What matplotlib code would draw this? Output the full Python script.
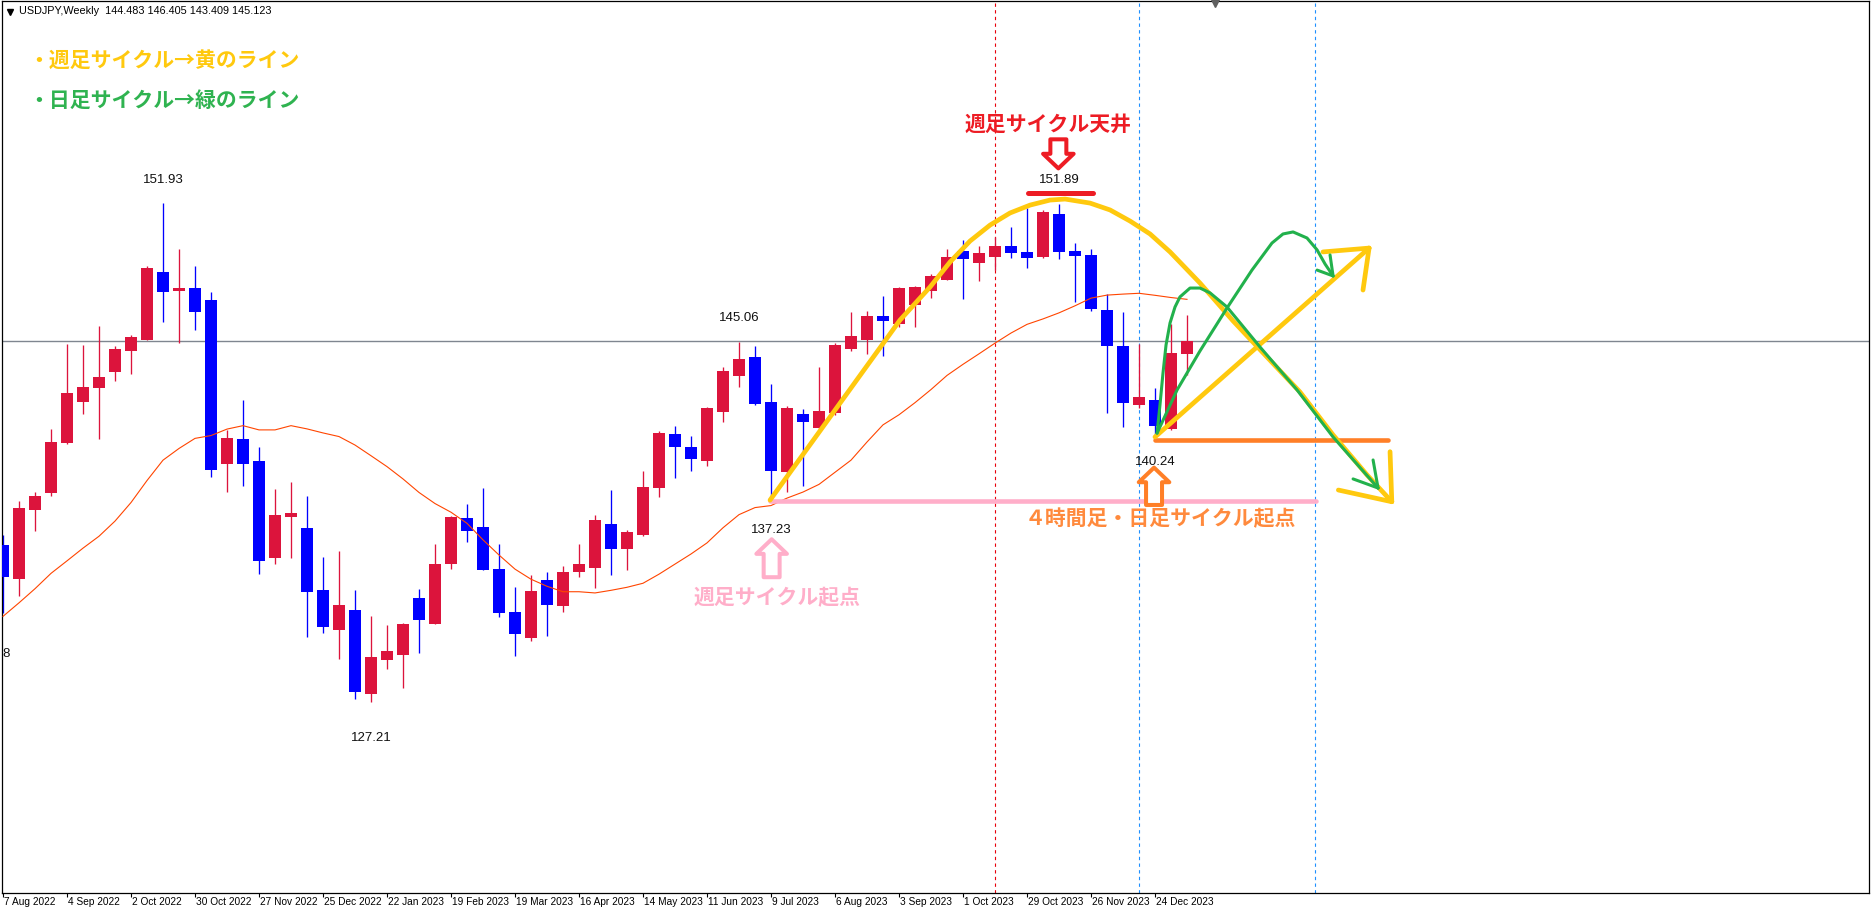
import matplotlib
matplotlib.use('Agg')
import matplotlib.pyplot as plt
import numpy as np

# ---- weekly USDJPY candles (7 Aug 2022 .. 7 Jan 2024) ----
opens = [135.01, 133.29, 136.75, 137.56, 140.03, 142.06, 142.80, 143.55, 144.59, 145.17,
         148.52, 147.60, 147.73, 147.15, 139.03, 140.25, 139.16, 134.37, 136.37, 135.84,
         132.77, 130.80, 131.78, 127.63, 129.31, 129.56, 132.37, 131.10, 134.07, 136.33,
         135.89, 133.81, 131.68, 130.40, 133.26, 131.99, 133.68, 133.87, 136.04, 134.80,
         135.49, 137.84, 140.50, 139.87, 139.16, 141.61, 143.39, 144.31, 142.08, 138.60,
         141.47, 140.81, 141.56, 144.73, 145.16, 146.35, 145.95, 146.91, 147.60, 148.15,
         149.57, 148.99, 149.29, 149.81, 149.52, 149.27, 151.40, 149.57, 149.37, 146.64,
         144.88, 141.94, 142.18, 140.74, 144.483]
highs = [135.51, 137.19, 137.64, 140.75, 144.94, 144.91, 145.86, 144.86, 145.39, 148.81,
         151.93, 149.66, 148.82, 147.53, 140.70, 142.19, 139.87, 137.77, 138.12, 137.42,
         134.40, 134.70, 132.77, 131.48, 131.03, 131.13, 132.82, 135.05, 136.43, 137.05,
         137.82, 135.05, 132.93, 133.51, 133.66, 133.96, 135.05, 136.48, 137.72, 135.72,
         138.68, 140.66, 140.91, 140.42, 141.85, 143.80, 145.06, 144.86, 142.96, 141.88,
         141.74, 143.82, 144.99, 146.54, 146.59, 147.35, 147.80, 147.85, 148.43, 149.67,
         150.11, 149.81, 150.28, 150.77, 151.72, 151.60, 151.89, 149.98, 149.65, 147.42,
         146.53, 144.96, 142.76, 145.95, 146.405]
lows = [131.63, 132.45, 135.71, 137.44, 139.98, 141.51, 140.27, 143.10, 143.45, 145.15,
        146.03, 145.02, 145.63, 138.39, 137.61, 137.94, 133.54, 134.04, 134.37, 130.45,
        130.65, 129.36, 127.35, 127.21, 128.87, 127.93, 129.66, 131.10, 133.82, 135.15,
        133.77, 131.45, 129.51, 130.26, 130.50, 131.69, 133.43, 132.88, 133.50, 133.75,
        135.45, 137.39, 138.32, 138.68, 138.93, 141.11, 142.84, 141.95, 137.23, 137.61,
        137.94, 140.75, 141.44, 144.61, 144.46, 144.36, 145.82, 145.82, 147.25, 148.15,
        147.21, 148.10, 148.63, 149.24, 148.74, 149.24, 149.15, 147.06, 146.61, 141.52,
        140.86, 141.77, 140.24, 140.70, 143.409]
closes = [133.39, 136.84, 137.44, 140.10, 142.53, 142.83, 143.33, 144.72, 145.31, 148.72,
          147.55, 147.73, 146.56, 138.69, 140.30, 139.03, 134.22, 136.48, 136.58, 132.68,
          130.95, 132.02, 127.73, 129.45, 129.74, 131.08, 131.30, 134.06, 136.38, 135.71,
          133.77, 131.64, 130.60, 132.72, 132.04, 133.66, 134.06, 136.24, 134.80, 135.66,
          137.87, 140.56, 139.87, 139.28, 141.80, 143.64, 144.22, 142.00, 138.68, 141.80,
          141.08, 141.64, 144.91, 145.35, 146.35, 146.11, 147.72, 147.77, 148.33, 149.27,
          149.19, 149.47, 149.81, 149.48, 149.24, 151.50, 149.53, 149.34, 146.71, 144.88,
          142.05, 142.32, 140.91, 144.51, 145.123]
# moving average
ma_values = [131.46, 132.13, 132.83, 133.59, 134.21, 134.84, 135.43, 136.18, 137.10, 138.19,
             139.20, 139.78, 140.28, 140.42, 140.74, 140.91, 140.70, 140.70, 140.91, 140.75,
             140.55, 140.37, 139.95, 139.42, 138.88, 138.27, 137.60, 137.05, 136.62, 136.07,
             135.25, 134.50, 133.80, 133.30, 132.95, 132.68, 132.68, 132.62, 132.75, 132.90,
             133.10, 133.55, 134.05, 134.55, 135.10, 135.85, 136.50, 136.85, 136.95, 137.32,
             137.62, 138.00, 138.60, 139.20, 140.10, 140.95, 141.45, 142.05, 142.70, 143.40,
             143.95, 144.47, 145.00, 145.50, 145.93, 146.20, 146.50, 146.85, 147.23, 147.38,
             147.43, 147.47, 147.37, 147.26, 147.17]
tick_labels = ['7 Aug 2022', '4 Sep 2022', '2 Oct 2022', '30 Oct 2022', '27 Nov 2022',
               '25 Dec 2022', '22 Jan 2023', '19 Feb 2023', '19 Mar 2023', '16 Apr 2023',
               '14 May 2023', '11 Jun 2023', '9 Jul 2023', '6 Aug 2023', '3 Sep 2023',
               '1 Oct 2023', '29 Oct 2023', '26 Nov 2023', '24 Dec 2023']
header = 'USDJPY,Weekly  144.483 146.405 143.409 145.123'
last_price = 145.123

# high / low labels (week index, value)
hl_idx = [10, 46, 66, 48, 23, 72]
hl_val = [151.93, 145.06, 151.89, 137.23, 127.21, 140.24]
hl_off = [17, 17, 17, -22, -26, -16.5]

# hand drawn annotations (week index, price)
arc_x = [47.94, 52.0, 56.06, 57.94, 59.19, 60.44, 61.69, 62.94, 64.19, 65.44, 66.38, 67.94,
         69.19, 70.44, 71.69, 72.94, 74.81, 76.88, 79.0, 81.06, 83.13, 85.25, 86.8]
arc_y = [137.22, 141.68, 146.14, 147.78, 149.02, 150.06, 150.85, 151.45, 151.84, 152.09,
         152.14, 151.94, 151.60, 151.05, 150.41, 149.52, 147.98, 146.10, 144.31, 142.58,
         140.45, 138.47, 137.14]
arc_head_x = [[86.69, 86.8], [83.46, 86.8]]
arc_head_y = [[139.62, 137.14], [137.72, 137.14]]
up_line_x = [72.0, 85.38]
up_line_y = [140.35, 149.71]
up_head_x = [[82.5, 85.38], [85.0, 85.38]]
up_head_y = [[149.52, 149.71], [147.63, 149.71]]
g1_x = [72.13, 72.31, 72.5, 72.69, 72.94, 73.25, 73.56, 74.19, 74.81, 75.44, 76.5, 78.56,
        80.88, 83.13, 85.94]
g1_y = [140.54, 141.93, 143.52, 144.91, 146.00, 146.79, 147.29, 147.73, 147.73, 147.49,
        146.79, 144.81, 142.68, 140.35, 137.82]
g1_head_x = [[85.63, 85.94], [84.38, 85.94]]
g1_head_y = [[139.21, 137.82], [138.27, 137.82]]
g2_x = [72.13, 73.38, 74.81, 76.5, 78.06, 79.31, 80.0, 80.63, 81.5, 82.13, 82.63, 83.13]
g2_y = [140.54, 142.68, 144.61, 146.74, 148.62, 149.96, 150.41, 150.51, 150.21, 149.62,
        148.92, 148.33]
g2_head_x = [[82.13, 83.13], [82.94, 83.13]]
g2_head_y = [[148.62, 148.33], [149.37, 148.33]]
top_bar = (64.06, 68.13, 152.43)
cycle_low_bar = (47.94, 82.06, 137.18)
day_low_bar = (72.0, 86.56, 140.2)
vlines_red = [62.0]
vlines_blue = [71.0, 82.0]
shift_mark = 75.75

YEL, GRN, ORG, PNK, RED = '#ffc90e', '#22b14c', '#ff7f27', '#ffaec9', '#ed1c24'
JP = ['Noto Sans CJK JP', 'DejaVu Sans']
LAT = ['Liberation Sans', 'DejaVu Sans']

fig = plt.figure(figsize=(18.72, 9.11), dpi=100)
ax = fig.add_axes([2 / 1872, 18 / 911, 1867 / 1872, 892 / 911])
ax.set_xlim(-0.0625, 116.625)
ax.set_ylim(117.75, 161.955)

x = np.arange(len(opens))
o, h, l, c = map(np.array, (opens, highs, lows, closes))
cols = np.where(c >= o, '#dc143c', '#0000ff')

ax.axhline(last_price, color='#7f8690', lw=1.0, zorder=1)
for v in vlines_red:
    ax.axvline(v, color='#e8000b', lw=0.8, ls=(0, (3, 3)), zorder=1)
for v in vlines_blue:
    ax.axvline(v, color='#1e90ff', lw=0.8, ls=(0, (3, 3)), zorder=1)

ax.vlines(x, l, h, colors=cols, lw=0.95, zorder=2)
ax.bar(x, np.maximum(np.abs(c - o), 0.1), bottom=np.minimum(o, c), width=0.69,
       color=cols, linewidth=0, zorder=3)
ax.plot(x, ma_values, color='#ff4500', lw=0.8, zorder=4)

for i, v, off in zip(hl_idx, hl_val, hl_off):
    ax.annotate(f'{v:.2f}', xy=(i, v), xytext=(0, off), textcoords='offset points',
                ha='center', va='center', fontsize=9.5, family=LAT, color='#101010')
ax.text(5 / 16 + 0.1, 129.6, '8', ha='right', va='center', fontsize=9.5, family=LAT,
        color='#101010', clip_on=True)

# annotations
kw = dict(solid_capstyle='round', solid_joinstyle='round', zorder=6)
ax.plot([cycle_low_bar[0], cycle_low_bar[1]], [cycle_low_bar[2]] * 2, color=PNK, lw=3.3, **kw)
ax.plot([day_low_bar[0], day_low_bar[1]], [day_low_bar[2]] * 2, color=ORG, lw=3.3, **kw)
ax.plot([top_bar[0], top_bar[1]], [top_bar[2]] * 2, color=RED, lw=3.6, **kw)
ax.plot(arc_x, arc_y, color=YEL, lw=3.4, **kw)
for hx, hy in zip(arc_head_x, arc_head_y):
    ax.plot(hx, hy, color=YEL, lw=3.4, **kw)
ax.plot(up_line_x, up_line_y, color=YEL, lw=3.4, **kw)
for hx, hy in zip(up_head_x, up_head_y):
    ax.plot(hx, hy, color=YEL, lw=3.4, **kw)
kw['zorder'] = 7
ax.plot(g1_x, g1_y, color=GRN, lw=2.2, **kw)
for hx, hy in zip(g1_head_x, g1_head_y):
    ax.plot(hx, hy, color=GRN, lw=2.2, **kw)
ax.plot(g2_x, g2_y, color=GRN, lw=2.2, **kw)
for hx, hy in zip(g2_head_x, g2_head_y):
    ax.plot(hx, hy, color=GRN, lw=2.2, **kw)


def hollow_arrow(tail, tip, color):
    ax.annotate('', xy=tip, xytext=tail,
                arrowprops=dict(arrowstyle='simple,head_length=10.5,head_width=22,tail_width=11.5',
                                mutation_scale=1, fc='white', ec=color, lw=2.9,
                                shrinkA=0, shrinkB=0), zorder=8)


hollow_arrow((65.96, 155.1), (65.96, 153.66), RED)
hollow_arrow((71.94, 136.98), (71.94, 138.83), ORG)
hollow_arrow((48.04, 133.4), (48.04, 135.28), PNK)

ax.text(65.31, 155.86, '週足サイクル天井', color=RED, fontsize=15, weight='bold',
        family=JP, ha='center', va='center', zorder=9)
ax.text(72.31, 136.31, '４時間足・日足サイクル起点', color='#ff8a3d', fontsize=15,
        weight='bold', family=JP, ha='center', va='center', zorder=9)
ax.text(48.38, 132.37, '週足サイクル起点', color=PNK, fontsize=15, weight='bold',
        family=JP, ha='center', va='center', zorder=9)
ax.text(1.56, 159.03, '・週足サイクル→黄のライン', color=YEL, fontsize=15, weight='bold',
        family=JP, ha='left', va='center', zorder=9)
ax.text(1.56, 157.04, '・日足サイクル→緑のライン', color='#2fb350', fontsize=15,
        weight='bold', family=JP, ha='left', va='center', zorder=9)

# header and chart shift marker
ax.plot([7.5 / 1867], [1 - 10.5 / 892], marker='v', color='black', markersize=4.5,
        transform=ax.transAxes, clip_on=False)
ax.text(17 / 1867, 1 - 10 / 892, header, transform=ax.transAxes, fontsize=7.8,
        family=LAT, ha='left', va='center', color='black')
ax.plot([shift_mark], [161.85], marker='v', color='#606060', markersize=6,
        clip_on=False, zorder=9)

# axis
ax.set_yticks([])
ax.set_xticks(np.arange(0, 73, 4))
ax.set_xticklabels([])
ax.tick_params(axis='x', direction='out', length=3, width=0.8, color='black')
for t, lab in zip(np.arange(0, 73, 4), tick_labels):
    ax.annotate(lab, xy=(t, 0), xycoords=('data', 'axes fraction'), xytext=(0.5, -3),
                textcoords='offset points', ha='left', va='top', fontsize=7.3, family=LAT,
                annotation_clip=False)
for s in ax.spines.values():
    s.set_linewidth(0.9)
    s.set_color('black')

fig.savefig('out.png', dpi=100, facecolor='white')
